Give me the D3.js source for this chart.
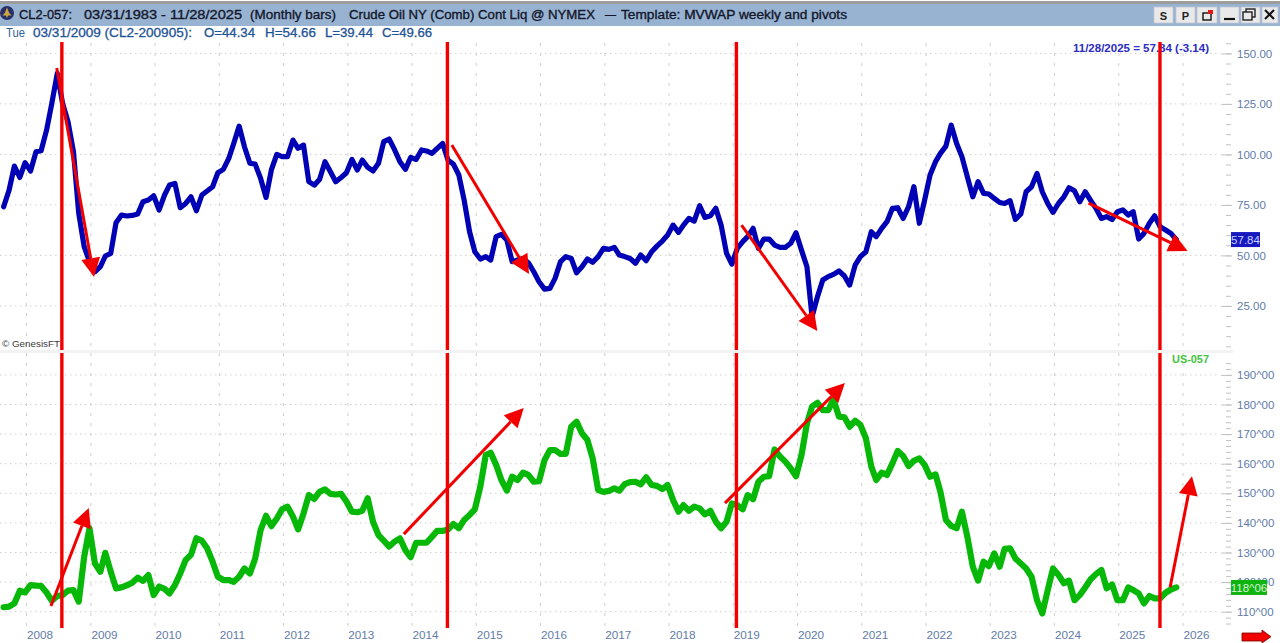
<!DOCTYPE html>
<html>
<head>
<meta charset="utf-8">
<title>CL2-057 vs US-057</title>
<script src="https://cdn.jsdelivr.net/npm/d3@7"></script>
<style>
  html, body { margin: 0; padding: 0; background: #fff; overflow: hidden; }
  svg { display: block; font-family: "Liberation Sans", Arial, sans-serif; }
</style>
</head>
<body>
<svg id="chart" width="1280" height="643"></svg>
<script>
// Monthly closes, Aug 2007 through Nov 2025
const crudeCloses = [
  74.1,82.3,94.2,88.6,95.9,91.8,101.3,101.8,112.0,125.3,
  140.1,125.3,116.2,101.3,70.8,54.3,46.9,41.9,44.4,49.7,
  51.0,66.2,70.0,69.5,69.8,70.5,76.6,77.4,79.5,72.5,
  79.9,84.8,85.6,73.6,75.7,79.0,72.1,79.9,81.9,84.0,
  90.9,92.6,98.0,105.4,114.0,103.8,95.6,95.2,88.1,78.7,
  92.3,100.0,98.9,98.9,107.1,103.0,104.6,86.5,84.8,87.6,
  96.4,91.4,86.5,88.6,90.9,97.5,92.3,97.2,93.6,91.8,
  95.6,106.3,107.6,102.2,96.4,92.6,98.5,97.5,102.2,101.7,
  100.5,103.0,105.4,97.2,95.2,89.8,77.4,61.7,51.8,48.2,
  49.4,47.7,59.3,60.4,57.6,46.9,47.7,48.5,46.4,41.9,
  37.0,33.3,33.7,38.6,46.9,49.4,48.5,41.4,44.4,48.2,
  46.6,49.4,53.5,53.0,54.0,50.2,49.4,48.5,46.1,50.2,
  47.4,51.8,54.6,57.1,60.1,65.0,61.4,65.0,68.3,67.0,
  74.6,68.8,69.6,73.3,65.0,51.0,45.7,53.5,56.8,59.3,
  63.4,53.5,58.1,58.1,55.1,54.0,54.0,56.0,61.2,52.6,
  44.4,19.6,29.6,37.8,39.5,40.6,42.3,39.8,35.3,45.2,
  49.4,51.8,61.7,59.3,63.4,66.7,73.3,73.6,68.3,74.1,
  84.0,65.9,77.4,89.8,96.4,100.5,104.1,114.5,105.4,98.9,
  88.9,79.0,86.5,80.7,80.4,78.2,76.2,75.7,77.1,67.8,
  70.5,81.5,84.0,90.6,81.5,75.7,71.3,75.7,79.0,83.5,
  82.0,76.6,81.5,77.4,73.3,68.3,69.2,67.8,71.6,72.5,
  70.0,71.6,58.1,60.9,65.9,69.6,64.2,62.6,60.9,57.84
];

const bondCloses = [
  111.5,111.7,112.8,117.1,116.5,119.0,118.8,118.7,116.5,113.7,
  115.3,115.6,117.1,117.3,113.4,128.6,138.2,126.3,123.5,129.9,
  123.5,117.9,118.2,118.9,119.8,121.5,120.4,122.4,115.6,118.5,
  117.7,116.2,119.0,122.9,127.5,129.2,134.8,134.0,131.4,126.9,
  121.8,120.7,120.7,120.1,121.8,124.6,122.9,128.0,137.6,142.4,
  138.9,141.5,144.6,145.5,142.1,137.8,143.2,149.4,148.1,150.5,
  151.3,149.8,149.6,149.8,147.2,143.8,143.6,144.1,148.3,140.4,
  135.9,134.0,132.0,133.7,134.8,130.8,128.4,133.3,133.3,133.3,
  135.3,137.3,137.3,137.8,139.6,138.2,141.0,142.7,144.6,152.2,
  162.9,163.7,159.6,154.5,150.9,155.6,154.5,157.0,156.2,153.9,
  154.1,161.2,164.6,164.6,163.3,163.3,172.5,174.2,170.3,168.0,
  161.8,151.1,150.5,150.8,151.7,150.9,153.1,153.8,153.9,153.0,
  155.4,152.8,152.5,151.4,152.8,147.7,143.8,146.0,144.1,145.5,
  144.9,142.9,144.1,140.4,138.2,140.4,146.6,146.0,144.6,149.4,
  148.0,153.9,155.6,155.8,164.8,162.4,160.7,158.4,155.8,162.9,
  173.6,179.3,180.6,178.1,178.1,181.7,175.9,175.7,172.5,174.5,
  173.1,168.6,159.0,154.5,157.0,156.2,160.1,164.3,162.6,159.2,
  161.0,161.8,159.6,155.6,156.4,150.5,141.0,139.0,138.2,143.8,
  135.3,125.2,120.5,126.9,125.4,129.7,125.2,131.2,131.4,128.0,
  126.3,124.6,121.8,113.9,109.4,117.3,124.6,122.4,119.6,120.5,
  113.9,115.6,118.2,120.9,122.7,124.1,117.9,119.2,113.9,113.9,
  118.2,117.3,116.2,112.8,115.3,114.5,114.5,116.4,117.5,118.19
];

const yearTicks = d3.range(2008, 2027);
const priceMajor = [25, 50, 75, 100, 125, 150];
const priceMinor = d3.range(5, 160, 5);
const bondMajor = [110, 120, 130, 140, 150, 160, 170, 180, 190];
const bondMinor = d3.range(106, 196, 2);

// Turning points marked across both panes, in decimal years
const eventYears = [2008.55, 2014.55, 2019.05, 2025.64];

// Trend arrows as [year, value] pairs: tail then tip
const crudeArrows = [
  [[2008.47, 142.8], [2009.05, 39.3]],
  [[2014.62, 104.7], [2015.82, 40.8]],
  [[2019.13, 65.0], [2020.31, 12.6]],
  [[2024.53, 75.9], [2026.07, 52.2]]
];
const bondArrows = [
  [[2008.38, 111.9], [2008.97, 145.0]],
  [[2013.87, 136.2], [2015.74, 178.8]],
  [[2018.87, 146.7], [2020.74, 187.3]],
  [[2025.80, 118.3], [2026.14, 155.8]]
];

const titleParts = [
  ["CL2-057:", 19, 53], ["03/31/1983 - 11/28/2025", 84, 158], ["(Monthly bars)", 250, 86],
  ["Crude Oil NY (Comb) Cont Liq @ NYMEX", 349, 246], ["\u2014", 605, 11],
  ["Template: MVWAP weekly and pivots", 621, 226]
];
const quoteParts = [
  ["03/31/2009 (CL2-200905):", 33, 159], ["O=44.34", 204, 51], ["H=54.66", 265, 51],
  ["L=39.44", 325, 48], ["C=49.66", 382, 50]
];
const windowButtons = [["S", 1154, 19], ["P", 1176, 19], ["", 1197, 20], ["", 1220, 19], ["", 1241, 19], ["", 1262, 16]];

const svg = d3.select("#chart");
const axisBlue = "#5f7ca8", gridGrey = "#cfcfcf", red = "#f20000";

const x = d3.scaleTime()
  .domain([new Date(2008, 0, 1), new Date(2026, 0, 1)])
  .range([26.5, 1183]);
const yearToDate = t => new Date(Math.floor(t), 0, 1 + Math.round((t % 1) * 365.25));
const monthDate = i => new Date(2007, 7 + i, 24);

const yPrice = d3.scaleLinear().domain([25, 150]).range([305.9, 53.4]);
const yBond = d3.scaleLinear().domain([110, 190]).range([611.7, 374.9]);

// Window chrome
svg.append("rect").attr("width", 1280).attr("height", 643).attr("fill", "#fff");
svg.append("rect").attr("y", 1).attr("width", 1280).attr("height", 3).attr("fill", "#9d9d9d");
svg.append("rect").attr("y", 4).attr("width", 1280).attr("height", 22).attr("fill", "#98b3d2");

const badge = svg.append("g").attr("transform", "translate(7,13)");
badge.append("circle").attr("r", 7).attr("fill", "#2a2f68");
badge.append("path").attr("d", "M0,-5.5 L2.2,0 L4.6,2.6 L1,2.6 L0,5.2 L-1,2.6 L-4.6,2.6 L-2.2,0 Z").attr("fill", "#c9a544");

svg.append("g").selectAll("text").data(titleParts).join("text")
  .attr("x", d => d[1]).attr("y", 19).attr("textLength", d => d[2]).attr("lengthAdjust", "spacingAndGlyphs")
  .attr("font-size", 12).attr("fill", "#14182c").attr("stroke", "#14182c").attr("stroke-width", 0.35)
  .text(d => d[0]);

const buttons = svg.append("g").selectAll("g").data(windowButtons).join("g")
  .attr("transform", d => `translate(${d[1]},7)`);
buttons.append("rect").attr("width", d => d[2]).attr("height", 16).attr("fill", "#e9e9e9").attr("stroke", "#bfc6cf").attr("stroke-width", 0.8);
buttons.append("text").attr("x", d => d[2] / 2).attr("y", 12.5).attr("text-anchor", "middle")
  .attr("font-size", 11).attr("font-weight", "bold").attr("fill", "#222").text(d => d[0]);

// Popout, minimise, restore and close glyphs
const glyphs = svg.append("g").attr("fill", "none").attr("stroke", "#111");
glyphs.append("rect").attr("x", 1203).attr("y", 13).attr("width", 8).attr("height", 7).attr("stroke-width", 1.4);
glyphs.append("rect").attr("x", 1208).attr("y", 10).attr("width", 5).attr("height", 4).attr("fill", "#e01818").attr("stroke", "none");
glyphs.append("line").attr("x1", 1224).attr("x2", 1235).attr("y1", 19).attr("y2", 19).attr("stroke-width", 2.2);
glyphs.append("rect").attr("x", 1246).attr("y", 9).attr("width", 9).attr("height", 8).attr("stroke-width", 1.3);
glyphs.append("rect").attr("x", 1243).attr("y", 12).attr("width", 9).attr("height", 8).attr("fill", "#e9e9e9").attr("stroke-width", 1.3);
glyphs.append("path").attr("d", "M1265,10 L1274,19 M1274,10 L1265,19").attr("stroke-width", 2);

// Quote line under the title bar
svg.append("text").attr("x", 6).attr("y", 37).attr("font-size", 13).attr("fill", "#2f5f95")
  .attr("textLength", 19).attr("lengthAdjust", "spacingAndGlyphs").text("Tue");
svg.append("g").selectAll("text").data(quoteParts).join("text")
  .attr("x", d => d[1]).attr("y", 37).attr("textLength", d => d[2]).attr("lengthAdjust", "spacingAndGlyphs")
  .attr("font-size", 12).attr("fill", "#1f5596").attr("stroke", "#1f5596").attr("stroke-width", 0.3)
  .text(d => d[0]);

// Gridlines
const grid = svg.append("g").attr("stroke", gridGrey).attr("stroke-width", 1).attr("fill", "none");
grid.selectAll(".yr").data(yearTicks).join("line").attr("class", "yr")
  .attr("x1", d => x(new Date(d, 0, 1))).attr("x2", d => x(new Date(d, 0, 1)))
  .attr("y1", 43).attr("y2", 628).attr("stroke-dasharray", "3 7");
grid.selectAll(".hp").data(priceMajor).join("line").attr("class", "hp")
  .attr("x1", 0).attr("x2", 1217).attr("y1", d => yPrice(d)).attr("y2", d => yPrice(d))
  .attr("stroke-dasharray", "1.5 3.5");
grid.selectAll(".hb").data(bondMajor).join("line").attr("class", "hb")
  .attr("x1", 0).attr("x2", 1217).attr("y1", d => yBond(d)).attr("y2", d => yBond(d))
  .attr("stroke-dasharray", "1.5 3.5");

// Right-hand price axes: long majors with values, short minors in between
function drawAxis(scale, major, minor, fmt) {
  const majorAxis = d3.axisRight(scale).tickValues(major).tickSize(11).tickPadding(5).tickFormat(fmt);
  const minorAxis = d3.axisRight(scale).tickValues(minor).tickSize(5).tickFormat("");
  const gMinor = svg.append("g").attr("transform", "translate(1226,0)").call(minorAxis);
  const gMajor = svg.append("g").attr("transform", "translate(1221,0)").call(majorAxis);
  [gMinor, gMajor].forEach(g => {
    g.select(".domain").remove();
    g.selectAll("line").attr("stroke", "#c2c2c2");
  });
  gMajor.selectAll("text").attr("font-size", 11.5).attr("font-family", "Liberation Sans, Arial, sans-serif").attr("fill", axisBlue);
}
drawAxis(yPrice, priceMajor, priceMinor, d => d.toFixed(2));
drawAxis(yBond, bondMajor, bondMinor, d => d + "^00");

// Year labels sit just right of their gridline
const xAxis = d3.axisBottom(x).tickValues(yearTicks.map(y => new Date(y, 0, 1))).tickSize(0).tickPadding(0).tickFormat(d3.timeFormat("%Y"));
const gx = svg.append("g").attr("transform", "translate(0,630)").call(xAxis);
gx.select(".domain").remove();
gx.selectAll("text").attr("font-size", 11.7).attr("font-family", "Liberation Sans, Arial, sans-serif")
  .attr("fill", axisBlue).attr("text-anchor", "start").attr("dy", "0.8em");

// Price series
const drawSeries = (values, scale, colour, width) => svg.append("path")
  .datum(values)
  .attr("fill", "none").attr("stroke", colour).attr("stroke-width", width)
  .attr("stroke-linejoin", "round").attr("stroke-linecap", "round")
  .attr("d", d3.line().x((d, i) => x(monthDate(i))).y(d => scale(d)));
drawSeries(crudeCloses, yPrice, "#0000b4", 5.2);
drawSeries(bondCloses, yBond, "#08b808", 6.2);

// Last-value tags
function lastValueTag(y, left, width, fill, textFill, label) {
  svg.append("rect").attr("x", left).attr("y", y - 7.5).attr("width", width).attr("height", 15).attr("fill", fill);
  svg.append("text").attr("x", left + width / 2).attr("y", y + 4.2).attr("text-anchor", "middle")
    .attr("font-size", 11.5).attr("fill", textFill).text(label);
}
lastValueTag(yPrice(crudeCloses[crudeCloses.length - 1]), 1231, 29, "#1818c0", "#c4d0ff", "57.84");
lastValueTag(yBond(bondCloses[bondCloses.length - 1]), 1231, 36, "#10b410", "#d8f2d8", "118^06");

// Corner annotations
svg.append("text").attr("x", 1073).attr("y", 52).attr("font-size", 10).attr("font-weight", "bold")
  .attr("fill", "#2c2cc4").attr("textLength", 136).attr("lengthAdjust", "spacingAndGlyphs").text("11/28/2025 = 57.84 (-3.14)");
svg.append("text").attr("x", 1172).attr("y", 363).attr("font-size", 10).attr("font-weight", "bold")
  .attr("fill", "#3fc43f").attr("textLength", 37).attr("lengthAdjust", "spacingAndGlyphs").text("US-057");
svg.append("text").attr("x", 2).attr("y", 347).attr("font-size", 9.5).attr("fill", "#3a3a3a")
  .attr("textLength", 58).attr("lengthAdjust", "spacingAndGlyphs").text("\u00a9 GenesisFT");

// Event verticals
const yearX = t => x(yearToDate(t));
svg.append("g").selectAll("line").data(eventYears).join("line")
  .attr("x1", yearX).attr("x2", yearX).attr("y1", 42).attr("y2", 628)
  .attr("stroke", red).attr("stroke-width", 3.4);

// Trend arrows with a fixed-size head at the tip
function drawArrows(list, scale) {
  const g = svg.append("g");
  list.forEach(([tail, tip]) => {
    const x0 = yearX(tail[0]), y0 = scale(tail[1]), x1 = yearX(tip[0]), y1 = scale(tip[1]);
    const a = Math.atan2(y1 - y0, x1 - x0), len = 19, half = 9.5;
    const bx = x1 - len * Math.cos(a), by = y1 - len * Math.sin(a);
    const px = -Math.sin(a) * half, py = Math.cos(a) * half;
    g.append("line").attr("x1", x0).attr("y1", y0).attr("x2", bx).attr("y2", by)
      .attr("stroke", red).attr("stroke-width", 3);
    g.append("polygon").attr("fill", red)
      .attr("points", [[x1, y1], [bx + px, by + py], [bx - px, by - py]].join(" "));
  });
}
drawArrows(crudeArrows, yPrice);
drawArrows(bondArrows, yBond);

// Divider between the two panes
svg.append("rect").attr("x", 0).attr("y", 350).attr("width", 1233).attr("height", 3).attr("fill", "#f2f2f2");

// Scroll arrow in the lower right corner
svg.append("path")
  .attr("d", "M1242,633 L1262,633 L1262,630 L1271,636.7 L1262,643 L1262,641 L1242,641 Z")
  .attr("fill", "#f20000").attr("stroke", "#7a0000").attr("stroke-width", 0.8);
</script>
</body>
</html>
